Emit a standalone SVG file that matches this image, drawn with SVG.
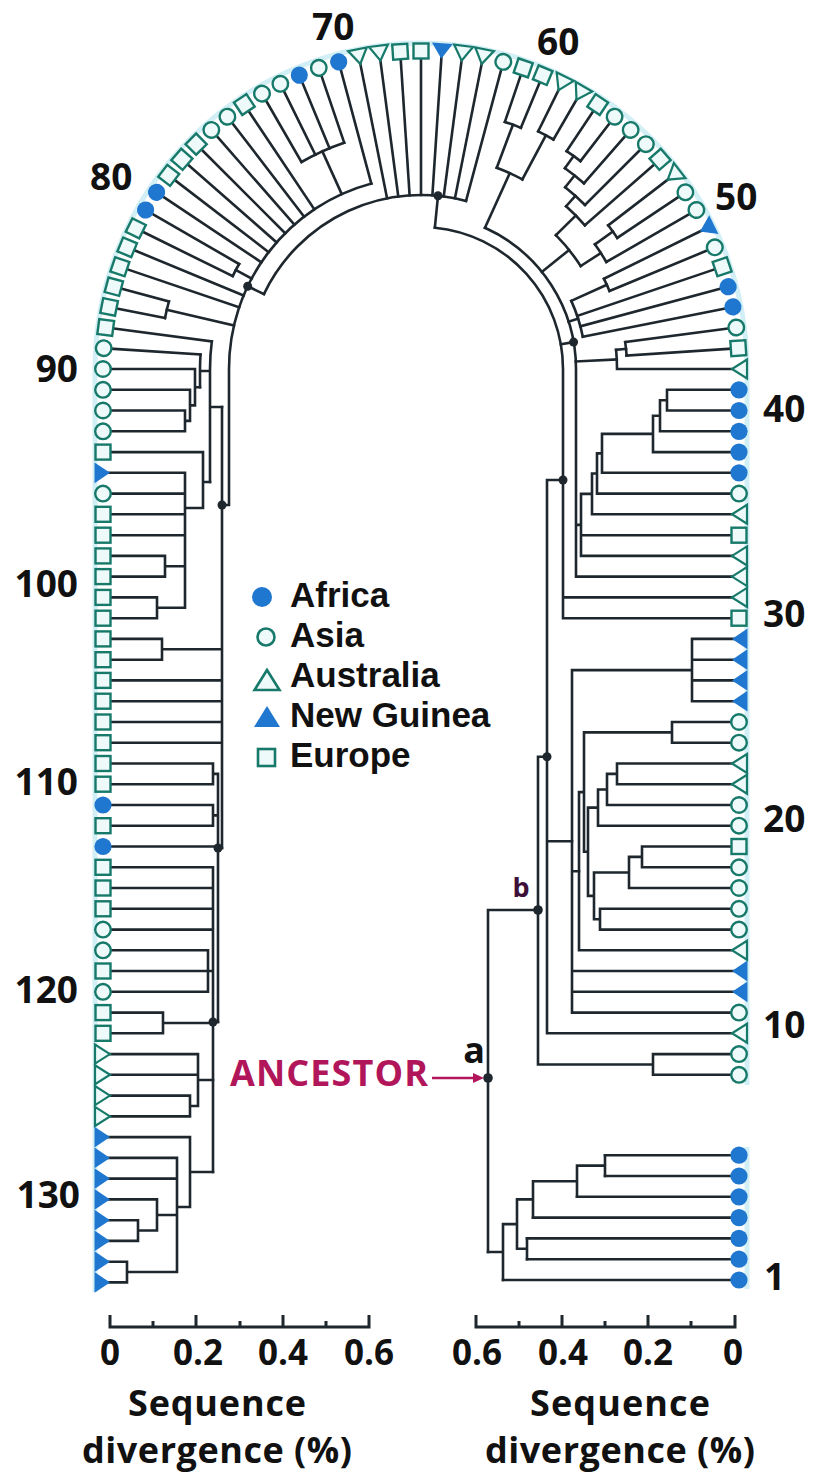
<svg xmlns="http://www.w3.org/2000/svg" width="815" height="1478" viewBox="0 0 815 1478">
<style>
.t{fill:none;stroke:#1d272d;stroke-width:2.6;stroke-linecap:square}
.dot{fill:#1d272d}
.lab{font-family:"Open Sans","Liberation Sans",sans-serif;font-weight:700;fill:#111}
.num{font-size:37px}
.tick{font-size:35px}
.ttl{font-size:36px}
.leg{font-family:"Liberation Sans",Arial,sans-serif;font-weight:700;font-size:35px;fill:#111}
.ax{fill:none;stroke:#1d272d;stroke-width:3}
</style>
<defs>
<circle id="oc" r="7.8" fill="#eef9fa" stroke="#17796a" stroke-width="2.4"/>
<circle id="fc" r="8.6" fill="#1f77cf"/>
<rect id="sq" x="-7.5" y="-7.5" width="15" height="15" fill="#eef9fa" stroke="#17796a" stroke-width="2.4"/>
<path id="au" d="M-7,0 L8,-9.5 L8,9.5 Z" fill="#eef9fa" stroke="#17796a" stroke-width="2.2"/>
<path id="ng" d="M-7,0 L8.5,-10.4 L8.5,10.4 Z" fill="#1f77cf"/>
<path id="auR" d="M7,0 L-8,-9.5 L-8,9.5 Z" fill="#eef9fa" stroke="#17796a" stroke-width="2.2"/>
<path id="ngR" d="M7,0 L-8.5,-10.4 L-8.5,10.4 Z" fill="#1f77cf"/>
<marker id="ah" markerWidth="11" markerHeight="10" refX="0" refY="5" orient="auto" markerUnits="userSpaceOnUse"><path d="M0,0 L11,5 L0,10 Z" fill="#b2165a"/></marker>
</defs>
<rect width="815" height="1478" fill="#ffffff"/>
<path d="M747,1085 V369 A326,326 0 0 0 95,369 V1292 M747,1147 V1289" fill="none" stroke="#d2eff5" stroke-width="5"/>

<g id="connectors" class="t">
<!-- Africa clade -->
<path d="M503,1280 H739 M527,1259.2 H739 M527,1238.4 H739 M533,1217.6 H739 M577,1196.8 H739 M605,1176 H739 M605,1155.2 H739"/>
<path d="M605,1155.2 V1176 M577,1165.6 H605 M577,1165.6 V1196.8 M533,1181.2 H577 M533,1181.2 V1217.6 M517,1199.4 H533 M527,1238.4 V1259.2 M517,1248.8 H527 M517,1199.4 V1248.8 M503,1224.1 H517 M503,1224.1 V1280 M488,1252 H503"/>
<!-- root, b, X -->
<path d="M488,910 V1252 M488,910 H538 M538,756.7 V1064.5 M538,1064.5 H653 M653,1054.1 V1074.8 M653,1054.1 H739 M653,1074.8 H739 M538,756.7 H547"/>
<path d="M547,480 V1033.3 M547,1033.3 H739 M547,480 H563 M547,841.3 H572"/>
<!-- Z -->
<path d="M572,670.1 V1012.6 M572,1012.6 H739 M572,991.8 H739 M572,971 H739 M572,670.1 H692 M692,638.9 V701.2 M692,638.9 H739 M692,659.7 H739 M692,680.4 H739 M692,701.2 H739 M572,871.2 H579"/>
<path d="M579,792.1 V950.3 M579,950.3 H739 M579,792.1 H584 M584,732.4 V851.8 M584,732.4 H672 M672,722 V742.7 M672,722 H739 M672,742.7 H739 M584,851.8 H588 M588,807.6 V895.9 M588,807.6 H598 M598,789.5 V825.7 M598,825.7 H739 M598,789.5 H607 M607,773.9 V805 M607,805 H739 M607,773.9 H617 M617,763.5 V784.2 M617,763.5 H739 M617,784.2 H739 M588,895.9 H594 M594,872.5 V919.2 M594,872.5 H629 M629,856.9 V888 M629,888 H739 M629,856.9 H642 M642,846.5 V867.3 M642,846.5 H739 M642,867.3 H739 M594,919.2 H600 M600,908.8 V929.6 M600,908.8 H739 M600,929.6 H739"/>
<!-- Y and W -->
<path d="M563,618.2 V369 A142,142 0 0 0 434.9,227.7 M563,618.2 H739 M563,597.4 H739"/>
<path d="M576,576.6 V369 A155,155 0 0 0 485,227.8 M576,576.6 H739 M576,524.9 H581 M581,493.9 V555.9 M581,555.9 H739 M581,535.2 H739 M581,493.9 H592 M592,473.5 V514.3 M592,514.3 H739 M592,473.5 H597 M597,453.4 V493.6 M597,493.6 H739 M597,453.4 H602 M602,433.9 V472.8 M602,472.8 H739 M602,433.9 H653 M653,415.7 V452.1 M653,452.1 H739 M653,415.7 H660 M660,400.2 V431.3 M660,431.3 H739 M660,400.2 H667 M667,389.8 V410.5 M667,389.8 H739 M667,410.5 H739"/>
<!-- arc clades -->
<path d="M617,369 H739 M617,369 A196,196 0 0 0 616.1,349.8 M626.6,355.5 A206,206 0 0 0 625.2,342.1"/>
<path d="M582.8,336.8 A165,165 0 0 0 571.3,300.9 M609.5,290.9 A204,204 0 0 0 604,278.8"/>
<path d="M580.7,266.1 A190,190 0 0 0 555.9,235.2 M606.3,262 A214,214 0 0 0 594.9,244.3 M617.2,237.9 A236,236 0 0 0 608.2,225.3 M584.9,225.3 A218,218 0 0 0 566.1,206.3 M585,205 A232,232 0 0 0 565.2,187.3 M583.9,183.3 A247,247 0 0 0 565,168.3 M580.5,161.1 A262,262 0 0 0 566.6,151.2"/>
<path d="M522.4,179.4 A215,215 0 0 0 496.7,167.8 M553.5,139.5 A265,265 0 0 0 538.2,131.3 M520.9,127.9 A261,261 0 0 0 504.9,121.9"/>
<path d="M466,200.9 A174,174 0 0 0 263.9,294.1"/>
<path d="M371.3,183.5 A192,192 0 0 0 229,369 V505 H222"/>
<path d="M344.2,142.7 A239,239 0 0 0 301.5,162 M239.1,264 A210,210 0 0 0 232.7,276.1 M168.9,301.5 A261,261 0 0 0 165,318.1"/>
<!-- internal radial links -->
<line x1="576" y1="369" x2="617" y2="369" transform="rotate(-2.8 421 369)"/>
<line x1="617" y1="369" x2="627" y2="369" transform="rotate(-5.625 421 369)"/>
<line x1="563" y1="369" x2="576" y2="369" transform="rotate(-10 421 369)"/>
<line x1="576" y1="369" x2="586" y2="369" transform="rotate(-17.8 421 369)"/>
<line x1="586" y1="369" x2="625" y2="369" transform="rotate(-24.375 421 369)"/>
<line x1="576" y1="369" x2="611" y2="369" transform="rotate(-38.79 421 369)"/>
<line x1="611" y1="369" x2="635" y2="369" transform="rotate(-32.81 421 369)"/>
<line x1="635" y1="369" x2="657" y2="369" transform="rotate(-35.625 421 369)"/>
<line x1="611" y1="369" x2="639" y2="369" transform="rotate(-44.77 421 369)"/>
<line x1="639" y1="369" x2="653" y2="369" transform="rotate(-48.28 421 369)"/>
<line x1="653" y1="369" x2="668" y2="369" transform="rotate(-51.5625 421 369)"/>
<line x1="668" y1="369" x2="683" y2="369" transform="rotate(-54.375 421 369)"/>
<line x1="576" y1="369" x2="636" y2="369" transform="rotate(-65.625 421 369)"/>
<line x1="636" y1="369" x2="686" y2="369" transform="rotate(-61.875 421 369)"/>
<line x1="636" y1="369" x2="682" y2="369" transform="rotate(-69.375 421 369)"/>
<line x1="563" y1="369" x2="595" y2="369" transform="rotate(-84.4 421 369)"/>
<line x1="595" y1="369" x2="613" y2="369" transform="rotate(-154.5 421 369)"/>
<line x1="613" y1="369" x2="660" y2="369" transform="rotate(-114.375 421 369)"/>
<line x1="613" y1="369" x2="631" y2="369" transform="rotate(-151.875 421 369)"/>
<line x1="613" y1="369" x2="682" y2="369" transform="rotate(-166.875 421 369)"/>
<!-- arc leaf radials -->
<line x1="627" y1="369" x2="739" y2="369" transform="rotate(-3.75 421 369)"/>
<line x1="627" y1="369" x2="739" y2="369" transform="rotate(-7.5 421 369)"/>
<line x1="586" y1="369" x2="739" y2="369" transform="rotate(-11.25 421 369)"/>
<line x1="586" y1="369" x2="739" y2="369" transform="rotate(-15 421 369)"/>
<line x1="586" y1="369" x2="739" y2="369" transform="rotate(-18.75 421 369)"/>
<line x1="625" y1="369" x2="739" y2="369" transform="rotate(-22.5 421 369)"/>
<line x1="625" y1="369" x2="739" y2="369" transform="rotate(-26.25 421 369)"/>
<line x1="635" y1="369" x2="739" y2="369" transform="rotate(-30 421 369)"/>
<line x1="657" y1="369" x2="739" y2="369" transform="rotate(-33.75 421 369)"/>
<line x1="657" y1="369" x2="739" y2="369" transform="rotate(-37.5 421 369)"/>
<line x1="639" y1="369" x2="739" y2="369" transform="rotate(-41.25 421 369)"/>
<line x1="653" y1="369" x2="739" y2="369" transform="rotate(-45 421 369)"/>
<line x1="668" y1="369" x2="739" y2="369" transform="rotate(-48.75 421 369)"/>
<line x1="683" y1="369" x2="739" y2="369" transform="rotate(-52.5 421 369)"/>
<line x1="683" y1="369" x2="739" y2="369" transform="rotate(-56.25 421 369)"/>
<line x1="686" y1="369" x2="739" y2="369" transform="rotate(-60 421 369)"/>
<line x1="686" y1="369" x2="739" y2="369" transform="rotate(-63.75 421 369)"/>
<line x1="682" y1="369" x2="739" y2="369" transform="rotate(-67.5 421 369)"/>
<line x1="682" y1="369" x2="739" y2="369" transform="rotate(-71.25 421 369)"/>
<line x1="595" y1="369" x2="739" y2="369" transform="rotate(-75 421 369)"/>
<line x1="595" y1="369" x2="739" y2="369" transform="rotate(-78.75 421 369)"/>
<line x1="595" y1="369" x2="739" y2="369" transform="rotate(-82.5 421 369)"/>
<line x1="595" y1="369" x2="739" y2="369" transform="rotate(-86.25 421 369)"/>
<line x1="595" y1="369" x2="739" y2="369" transform="rotate(-90 421 369)"/>
<line x1="595" y1="369" x2="739" y2="369" transform="rotate(-93.75 421 369)"/>
<line x1="595" y1="369" x2="739" y2="369" transform="rotate(-97.5 421 369)"/>
<line x1="595" y1="369" x2="739" y2="369" transform="rotate(-101.25 421 369)"/>
<line x1="613" y1="369" x2="739" y2="369" transform="rotate(-105 421 369)"/>
<line x1="660" y1="369" x2="739" y2="369" transform="rotate(-108.75 421 369)"/>
<line x1="660" y1="369" x2="739" y2="369" transform="rotate(-112.5 421 369)"/>
<line x1="660" y1="369" x2="739" y2="369" transform="rotate(-116.25 421 369)"/>
<line x1="660" y1="369" x2="739" y2="369" transform="rotate(-120 421 369)"/>
<line x1="613" y1="369" x2="739" y2="369" transform="rotate(-123.75 421 369)"/>
<line x1="613" y1="369" x2="739" y2="369" transform="rotate(-127.5 421 369)"/>
<line x1="613" y1="369" x2="739" y2="369" transform="rotate(-131.25 421 369)"/>
<line x1="613" y1="369" x2="739" y2="369" transform="rotate(-135 421 369)"/>
<line x1="613" y1="369" x2="739" y2="369" transform="rotate(-138.75 421 369)"/>
<line x1="613" y1="369" x2="739" y2="369" transform="rotate(-142.5 421 369)"/>
<line x1="613" y1="369" x2="739" y2="369" transform="rotate(-146.25 421 369)"/>
<line x1="631" y1="369" x2="739" y2="369" transform="rotate(-150 421 369)"/>
<line x1="631" y1="369" x2="739" y2="369" transform="rotate(-153.75 421 369)"/>
<line x1="613" y1="369" x2="739" y2="369" transform="rotate(-157.5 421 369)"/>
<line x1="613" y1="369" x2="739" y2="369" transform="rotate(-161.25 421 369)"/>
<line x1="682" y1="369" x2="739" y2="369" transform="rotate(-165 421 369)"/>
<line x1="682" y1="369" x2="739" y2="369" transform="rotate(-168.75 421 369)"/>
<line x1="632" y1="369" x2="739" y2="369" transform="rotate(-172.5 421 369)"/>
<line x1="642" y1="369" x2="739" y2="369" transform="rotate(-176.25 421 369)"/>
<!-- left column -->
<path d="M211.8,341.5 A211,211 0 0 0 210,369 V482 M210,407 H222 M200.5,354.6 A221,221 0 0 0 200,369 V387.2 M200,371 H210"/>
<path d="M103,369 H195 M103,389.8 H190 M103,410.5 H185 M103,431.3 H185 M185,410.5 V431.3 M185,420.9 H190 M190,389.8 V420.9 M190,405.4 H195 M195,369 V405.4 M195,387.2 H200"/>
<path d="M103,452.1 H203 M103,472.8 H185 M103,493.6 H185 M103,514.3 H185 M103,535.2 H185 M103,555.9 H165 M103,576.6 H165 M103,597.4 H157 M103,618.2 H157 M165,555.9 V576.6 M165,566.3 H185 M157,597.4 V618.2 M157,607.8 H185 M185,472.8 V607.8 M185,508 H203 M203,452.1 V508 M203,482 H210"/>
<path d="M222,407 V848 M103,638.9 H162 M103,659.7 H162 M162,638.9 V659.7 M162,649.3 H222 M103,680.4 H222 M103,701.2 H222 M103,722 H222 M103,742.7 H222"/>
<path d="M218,773.9 V1022 M218,848 H222 M103,763.5 H213 M103,784.2 H213 M213,763.5 V784.2 M213,773.9 H218 M103,805 H213 M103,825.7 H213 M213,805 V825.7 M213,815.4 H218 M103,846.5 H218"/>
<path d="M213,867.3 V1172 M213,1022 H218 M103,867.3 H213 M103,888 H213 M103,908.8 H213 M103,929.6 H213 M103,950.3 H208 M103,971 H208 M103,991.8 H208 M208,950.3 V991.8 M208,971 H213 M103,1012.6 H163 M103,1033.3 H163 M163,1012.6 V1033.3 M163,1023 H213"/>
<path d="M103,1054.1 H198 M103,1074.8 H198 M103,1095.6 H190 M103,1116.4 H190 M190,1095.6 V1116.4 M190,1106 H198 M198,1054.1 V1106 M198,1080 H213"/>
<path d="M103,1137.1 H190 M103,1157.9 H177 M103,1178.6 H177 M103,1199.4 H157 M103,1220.2 H138 M103,1240.9 H138 M138,1220.2 V1240.9 M138,1230.5 H157 M157,1199.4 V1230.5 M157,1215 H177 M103,1261.7 H127 M103,1282.4 H127 M127,1261.7 V1282.4 M127,1272 H177 M177,1157.9 V1272 M177,1207 H190 M190,1137.1 V1207 M190,1172 H213"/>
</g>

<g id="node-a"><circle class="dot" cx="488" cy="1078" r="4.8"/></g>
<g id="node-b"><circle class="dot" cx="538" cy="910" r="4.8"/></g>
<g id="node-x"><circle class="dot" cx="547" cy="756.7" r="4.5"/></g>
<g id="node-y"><circle class="dot" cx="563" cy="480" r="4.5"/></g>
<g id="node-w"><circle class="dot" cx="573.6" cy="342.1" r="4.5"/></g>
<g id="node-t"><circle class="dot" cx="438" cy="195.8" r="4.5"/></g>
<g id="node-l1"><circle class="dot" cx="247.7" cy="286.3" r="4.5"/></g>
<g id="node-l2"><circle class="dot" cx="222" cy="505" r="4.5"/></g>
<g id="node-l3"><circle class="dot" cx="218" cy="848" r="4.5"/></g>
<g id="node-l4"><circle class="dot" cx="213" cy="1022" r="4.5"/></g>

<!-- right column leaves -->
<g id="n1"><use href="#fc" x="739" y="1280"/></g>
<g id="n2"><use href="#fc" x="739" y="1259.2"/></g>
<g id="n3"><use href="#fc" x="739" y="1238.4"/></g>
<g id="n4"><use href="#fc" x="739" y="1217.6"/></g>
<g id="n5"><use href="#fc" x="739" y="1196.8"/></g>
<g id="n6"><use href="#fc" x="739" y="1176"/></g>
<g id="n7"><use href="#fc" x="739" y="1155.2"/></g>
<g id="n8"><use href="#oc" x="739" y="1074.8"/></g>
<g id="n9"><use href="#oc" x="739" y="1054.1"/></g>
<g id="n10"><use href="#au" x="739" y="1033.3"/></g>
<g id="n11"><use href="#oc" x="739" y="1012.6"/></g>
<g id="n12"><use href="#ng" x="739" y="991.8"/></g>
<g id="n13"><use href="#ng" x="739" y="971"/></g>
<g id="n14"><use href="#au" x="739" y="950.3"/></g>
<g id="n15"><use href="#oc" x="739" y="929.6"/></g>
<g id="n16"><use href="#oc" x="739" y="908.8"/></g>
<g id="n17"><use href="#oc" x="739" y="888"/></g>
<g id="n18"><use href="#oc" x="739" y="867.3"/></g>
<g id="n19"><use href="#sq" x="739" y="846.5"/></g>
<g id="n20"><use href="#oc" x="739" y="825.7"/></g>
<g id="n21"><use href="#oc" x="739" y="805"/></g>
<g id="n22"><use href="#au" x="739" y="784.2"/></g>
<g id="n23"><use href="#au" x="739" y="763.5"/></g>
<g id="n24"><use href="#oc" x="739" y="742.7"/></g>
<g id="n25"><use href="#oc" x="739" y="722"/></g>
<g id="n26"><use href="#ng" x="739" y="701.2"/></g>
<g id="n27"><use href="#ng" x="739" y="680.4"/></g>
<g id="n28"><use href="#ng" x="739" y="659.7"/></g>
<g id="n29"><use href="#ng" x="739" y="638.9"/></g>
<g id="n30"><use href="#sq" x="739" y="618.2"/></g>
<g id="n31"><use href="#au" x="739" y="597.4"/></g>
<g id="n32"><use href="#au" x="739" y="576.6"/></g>
<g id="n33"><use href="#au" x="739" y="555.9"/></g>
<g id="n34"><use href="#sq" x="739" y="535.2"/></g>
<g id="n35"><use href="#au" x="739" y="514.3"/></g>
<g id="n36"><use href="#oc" x="739" y="493.6"/></g>
<g id="n37"><use href="#fc" x="739" y="472.8"/></g>
<g id="n38"><use href="#fc" x="739" y="452.1"/></g>
<g id="n39"><use href="#fc" x="739" y="431.3"/></g>
<g id="n40"><use href="#fc" x="739" y="410.5"/></g>
<g id="n41"><use href="#fc" x="739" y="389.8"/></g>
<g id="n42"><use href="#au" x="739" y="369"/></g>
<!-- arc leaves -->
<g id="n43"><use href="#sq" x="739" y="369" transform="rotate(-3.75 421 369)"/></g>
<g id="n44"><use href="#oc" x="739" y="369" transform="rotate(-7.5 421 369)"/></g>
<g id="n45"><use href="#fc" x="739" y="369" transform="rotate(-11.25 421 369)"/></g>
<g id="n46"><use href="#fc" x="739" y="369" transform="rotate(-15 421 369)"/></g>
<g id="n47"><use href="#sq" x="739" y="369" transform="rotate(-18.75 421 369)"/></g>
<g id="n48"><use href="#oc" x="739" y="369" transform="rotate(-22.5 421 369)"/></g>
<g id="n49"><use href="#ng" x="739" y="369" transform="rotate(-26.25 421 369)"/></g>
<g id="n50"><use href="#oc" x="739" y="369" transform="rotate(-30 421 369)"/></g>
<g id="n51"><use href="#oc" x="739" y="369" transform="rotate(-33.75 421 369)"/></g>
<g id="n52"><use href="#au" x="739" y="369" transform="rotate(-37.5 421 369)"/></g>
<g id="n53"><use href="#sq" x="739" y="369" transform="rotate(-41.25 421 369)"/></g>
<g id="n54"><use href="#oc" x="739" y="369" transform="rotate(-45 421 369)"/></g>
<g id="n55"><use href="#oc" x="739" y="369" transform="rotate(-48.75 421 369)"/></g>
<g id="n56"><use href="#oc" x="739" y="369" transform="rotate(-52.5 421 369)"/></g>
<g id="n57"><use href="#sq" x="739" y="369" transform="rotate(-56.25 421 369)"/></g>
<g id="n58"><use href="#au" x="739" y="369" transform="rotate(-60 421 369)"/></g>
<g id="n59"><use href="#au" x="739" y="369" transform="rotate(-63.75 421 369)"/></g>
<g id="n60"><use href="#sq" x="739" y="369" transform="rotate(-67.5 421 369)"/></g>
<g id="n61"><use href="#sq" x="739" y="369" transform="rotate(-71.25 421 369)"/></g>
<g id="n62"><use href="#oc" x="739" y="369" transform="rotate(-75 421 369)"/></g>
<g id="n63"><use href="#au" x="739" y="369" transform="rotate(-78.75 421 369)"/></g>
<g id="n64"><use href="#au" x="739" y="369" transform="rotate(-82.5 421 369)"/></g>
<g id="n65"><use href="#ng" x="739" y="369" transform="rotate(-86.25 421 369)"/></g>
<g id="n66"><use href="#sq" x="739" y="369" transform="rotate(-90 421 369)"/></g>
<g id="n67"><use href="#sq" x="739" y="369" transform="rotate(-93.75 421 369)"/></g>
<g id="n68"><use href="#au" x="739" y="369" transform="rotate(-97.5 421 369)"/></g>
<g id="n69"><use href="#au" x="739" y="369" transform="rotate(-101.25 421 369)"/></g>
<g id="n70"><use href="#fc" x="739" y="369" transform="rotate(-105 421 369)"/></g>
<g id="n71"><use href="#oc" x="739" y="369" transform="rotate(-108.75 421 369)"/></g>
<g id="n72"><use href="#fc" x="739" y="369" transform="rotate(-112.5 421 369)"/></g>
<g id="n73"><use href="#oc" x="739" y="369" transform="rotate(-116.25 421 369)"/></g>
<g id="n74"><use href="#oc" x="739" y="369" transform="rotate(-120 421 369)"/></g>
<g id="n75"><use href="#sq" x="739" y="369" transform="rotate(-123.75 421 369)"/></g>
<g id="n76"><use href="#oc" x="739" y="369" transform="rotate(-127.5 421 369)"/></g>
<g id="n77"><use href="#oc" x="739" y="369" transform="rotate(-131.25 421 369)"/></g>
<g id="n78"><use href="#sq" x="739" y="369" transform="rotate(-135 421 369)"/></g>
<g id="n79"><use href="#sq" x="739" y="369" transform="rotate(-138.75 421 369)"/></g>
<g id="n80"><use href="#sq" x="739" y="369" transform="rotate(-142.5 421 369)"/></g>
<g id="n81"><use href="#fc" x="739" y="369" transform="rotate(-146.25 421 369)"/></g>
<g id="n82"><use href="#fc" x="739" y="369" transform="rotate(-150 421 369)"/></g>
<g id="n83"><use href="#sq" x="739" y="369" transform="rotate(-153.75 421 369)"/></g>
<g id="n84"><use href="#sq" x="739" y="369" transform="rotate(-157.5 421 369)"/></g>
<g id="n85"><use href="#sq" x="739" y="369" transform="rotate(-161.25 421 369)"/></g>
<g id="n86"><use href="#sq" x="739" y="369" transform="rotate(-165 421 369)"/></g>
<g id="n87"><use href="#sq" x="739" y="369" transform="rotate(-168.75 421 369)"/></g>
<g id="n88"><use href="#sq" x="739" y="369" transform="rotate(-172.5 421 369)"/></g>
<g id="n89"><use href="#oc" x="739" y="369" transform="rotate(-176.25 421 369)"/></g>
<!-- left column leaves -->
<g id="n90"><use href="#oc" x="103" y="369"/></g>
<g id="n91"><use href="#oc" x="103" y="389.8"/></g>
<g id="n92"><use href="#oc" x="103" y="410.5"/></g>
<g id="n93"><use href="#oc" x="103" y="431.3"/></g>
<g id="n94"><use href="#sq" x="103" y="452.1"/></g>
<g id="n95"><use href="#ngR" x="103" y="472.8"/></g>
<g id="n96"><use href="#oc" x="103" y="493.6"/></g>
<g id="n97"><use href="#sq" x="103" y="514.3"/></g>
<g id="n98"><use href="#sq" x="103" y="535.2"/></g>
<g id="n99"><use href="#sq" x="103" y="555.9"/></g>
<g id="n100"><use href="#sq" x="103" y="576.6"/></g>
<g id="n101"><use href="#sq" x="103" y="597.4"/></g>
<g id="n102"><use href="#sq" x="103" y="618.2"/></g>
<g id="n103"><use href="#sq" x="103" y="638.9"/></g>
<g id="n104"><use href="#sq" x="103" y="659.7"/></g>
<g id="n105"><use href="#sq" x="103" y="680.4"/></g>
<g id="n106"><use href="#sq" x="103" y="701.2"/></g>
<g id="n107"><use href="#sq" x="103" y="722"/></g>
<g id="n108"><use href="#sq" x="103" y="742.7"/></g>
<g id="n109"><use href="#sq" x="103" y="763.5"/></g>
<g id="n110"><use href="#sq" x="103" y="784.2"/></g>
<g id="n111"><use href="#fc" x="103" y="805"/></g>
<g id="n112"><use href="#sq" x="103" y="825.7"/></g>
<g id="n113"><use href="#fc" x="103" y="846.5"/></g>
<g id="n114"><use href="#sq" x="103" y="867.3"/></g>
<g id="n115"><use href="#sq" x="103" y="888"/></g>
<g id="n116"><use href="#sq" x="103" y="908.8"/></g>
<g id="n117"><use href="#oc" x="103" y="929.6"/></g>
<g id="n118"><use href="#oc" x="103" y="950.3"/></g>
<g id="n119"><use href="#sq" x="103" y="971"/></g>
<g id="n120"><use href="#oc" x="103" y="991.8"/></g>
<g id="n121"><use href="#sq" x="103" y="1012.6"/></g>
<g id="n122"><use href="#sq" x="103" y="1033.3"/></g>
<g id="n123"><use href="#auR" x="103" y="1054.1"/></g>
<g id="n124"><use href="#auR" x="103" y="1074.8"/></g>
<g id="n125"><use href="#auR" x="103" y="1095.6"/></g>
<g id="n126"><use href="#auR" x="103" y="1116.4"/></g>
<g id="n127"><use href="#ngR" x="103" y="1137.1"/></g>
<g id="n128"><use href="#ngR" x="103" y="1157.9"/></g>
<g id="n129"><use href="#ngR" x="103" y="1178.6"/></g>
<g id="n130"><use href="#ngR" x="103" y="1199.4"/></g>
<g id="n131"><use href="#ngR" x="103" y="1220.2"/></g>
<g id="n132"><use href="#ngR" x="103" y="1240.9"/></g>
<g id="n133"><use href="#ngR" x="103" y="1261.7"/></g>
<g id="n134"><use href="#ngR" x="103" y="1282.4"/></g>

<g id="leaf-numbers" class="lab num">
<text x="764" y="1290">1</text>
<text x="763" y="1038">10</text>
<text x="763" y="832">20</text>
<text x="763" y="627">30</text>
<text x="763" y="422">40</text>
<text x="715" y="210">50</text>
<text x="537" y="55">60</text>
<text x="312" y="40">70</text>
<text x="90" y="190">80</text>
<text x="78" y="382" text-anchor="end">90</text>
<text x="78" y="597" text-anchor="end">100</text>
<text x="78" y="795" text-anchor="end">110</text>
<text x="78" y="1003" text-anchor="end">120</text>
<text x="80" y="1208" text-anchor="end">130</text>
</g>

<g id="legend">
<circle cx="262" cy="597" r="10" fill="#1f77cf"/>
<circle cx="266" cy="637" r="8.5" fill="#eef9fa" stroke="#17796a" stroke-width="2.6"/>
<path d="M267,670 L279.5,690 L254.5,690 Z" fill="#eef9fa" stroke="#17796a" stroke-width="2.6"/>
<path d="M267,706 L280,727 L254,727 Z" fill="#1f77cf"/>
<rect x="258" y="749" width="17" height="17" fill="#eef9fa" stroke="#17796a" stroke-width="2.6"/>
<text class="leg" x="290" y="607">Africa</text>
<text class="leg" x="290" y="647">Asia</text>
<text class="leg" x="290" y="687">Australia</text>
<text class="leg" x="290" y="727">New Guinea</text>
<text class="leg" x="290" y="767">Europe</text>
</g>

<g id="ancestor">
<text class="lab" x="230" y="1086" font-size="36" style="fill:#b2165a" textLength="198">ANCESTOR</text>
<line x1="432" y1="1078" x2="473" y2="1078" stroke="#b2165a" stroke-width="2.6" marker-end="url(#ah)"/>
<text class="lab" x="474" y="1063" font-size="36" text-anchor="middle">a</text>
<text class="lab" x="521" y="897" font-size="27" text-anchor="middle" style="fill:#3d1038">b</text>
</g>

<g id="axis-left">
<path class="ax" d="M110,1315 V1327 H369 V1315 M196,1315 V1327 M283,1315 V1327 M153,1321 V1327 M240,1321 V1327 M326,1321 V1327"/>
<text class="lab tick" x="110" y="1365" text-anchor="middle">0</text>
<text class="lab tick" x="198" y="1365" text-anchor="middle">0.2</text>
<text class="lab tick" x="283" y="1365" text-anchor="middle">0.4</text>
<text class="lab tick" x="369" y="1365" text-anchor="middle">0.6</text>
<text class="lab ttl" x="217" y="1416" text-anchor="middle" textLength="178">Sequence</text>
<text class="lab ttl" x="217" y="1463" text-anchor="middle" textLength="270">divergence (%)</text>
</g>

<g id="axis-right">
<path class="ax" d="M476,1315 V1327 H735 V1315 M562,1315 V1327 M648,1315 V1327 M519,1321 V1327 M605,1321 V1327 M691,1321 V1327"/>
<text class="lab tick" x="477" y="1365" text-anchor="middle">0.6</text>
<text class="lab tick" x="563" y="1365" text-anchor="middle">0.4</text>
<text class="lab tick" x="648" y="1365" text-anchor="middle">0.2</text>
<text class="lab tick" x="733" y="1365" text-anchor="middle">0</text>
<text class="lab ttl" x="620" y="1416" text-anchor="middle" textLength="180">Sequence</text>
<text class="lab ttl" x="620" y="1463" text-anchor="middle" textLength="270">divergence (%)</text>
</g>
</svg>
